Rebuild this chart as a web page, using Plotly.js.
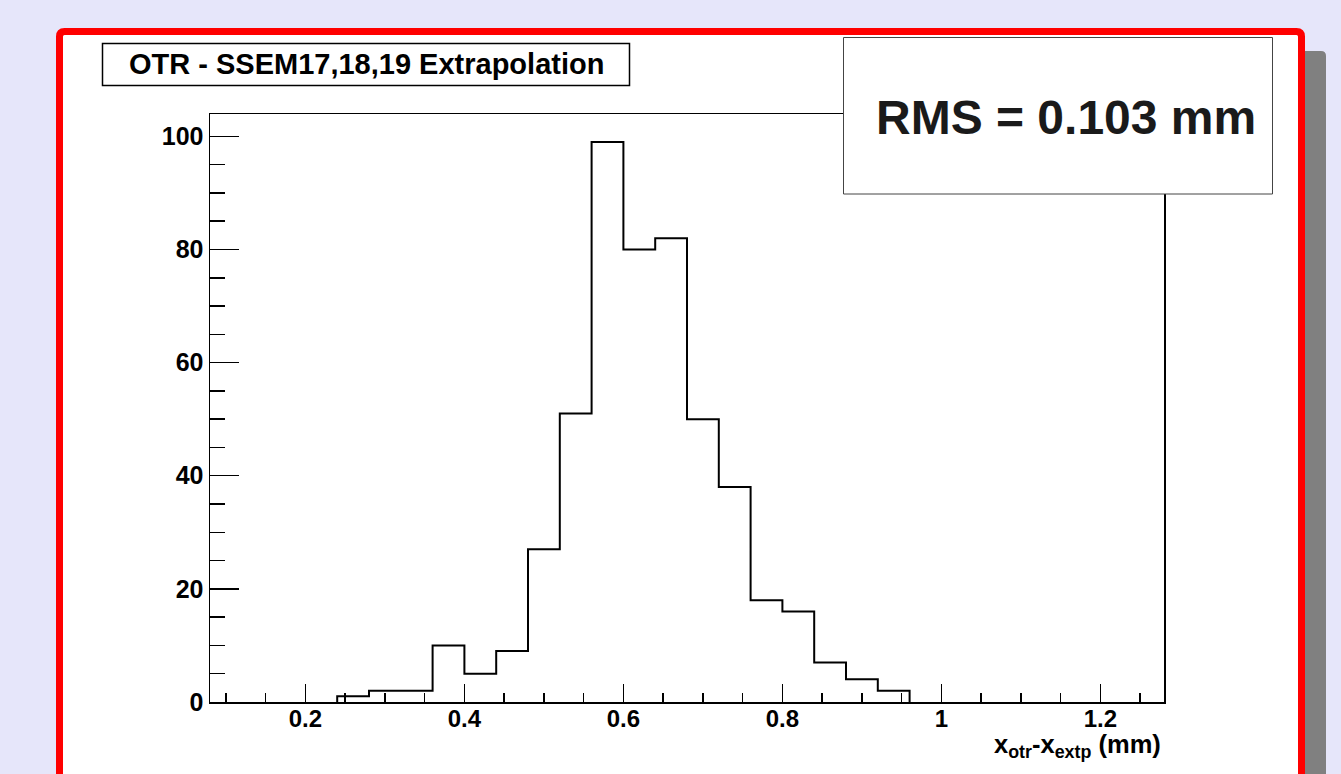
<!DOCTYPE html>
<html>
<head>
<meta charset="utf-8">
<script src="https://cdn.plot.ly/plotly-3.0.1.min.js"></script>
<style>html,body{margin:0;padding:0;background:#e6e6fa;}#chart{width:1341px;height:774px;}</style>
</head>
<body>
<div id="chart"></div>
<script>
// ---- data ----
const binLow = [0.24, 0.28, 0.32, 0.36, 0.40, 0.44, 0.48, 0.52, 0.56, 0.60, 0.64, 0.68, 0.72, 0.76, 0.80, 0.84, 0.88, 0.92];
const counts = [1, 2, 2, 10, 5, 9, 27, 51, 99, 80, 82, 50, 38, 18, 16, 7, 4, 2];
const binWidth = 0.04;
const xTickVals = [0.2, 0.4, 0.6, 0.8, 1, 1.2];
const xTickText = ["0.2", "0.4", "0.6", "0.8", "1", "1.2"];
const yTickVals = [0, 20, 40, 60, 80, 100];
const yTickText = ["0", "20", "40", "60", "80", "100"];
const titleText = "OTR - SSEM17,18,19 Extrapolation";
const rmsText = "RMS = 0.103 mm";
const xTitle = "x<sub>otr</sub>-x<sub>extp</sub> (mm)";

// step outline (ROOT-style histogram)
const sx = [binLow[0]], sy = [0];
for (let i = 0; i < counts.length; i++) { sx.push(binLow[i]); sy.push(counts[i]); }
sx.push(binLow[binLow.length - 1] + binWidth); sy.push(0);

const W = 1341, H = 774;
const px = v => v / W, py = v => 1 - v / H;
function roundRect(x0, y0, x1, y1, r) {
  const P = (x, y) => px(x) + ',' + py(y);
  return 'M' + P(x0 + r, y0) + ' L' + P(x1 - r, y0) + ' Q' + P(x1, y0) + ' ' + P(x1, y0 + r) +
    ' L' + P(x1, y1 - r) + ' Q' + P(x1, y1) + ' ' + P(x1 - r, y1) +
    ' L' + P(x0 + r, y1) + ' Q' + P(x0, y1) + ' ' + P(x0, y1 - r) +
    ' L' + P(x0, y0 + r) + ' Q' + P(x0, y0) + ' ' + P(x0 + r, y0) + ' Z';
}

const FONT = "Liberation Sans, Arial, sans-serif";

const trace = {
  x: sx, y: sy, type: 'scatter', mode: 'lines',
  line: {shape: 'hv', color: '#000', width: 2},
  hoverinfo: 'skip', showlegend: false
};

const layout = {
  width: W, height: H,
  paper_bgcolor: '#e6e6fa', plot_bgcolor: '#ffffff',
  margin: {l: 0, r: 0, t: 0, b: 0},
  showlegend: false,
  xaxis: {
    domain: [px(210), px(1164)], range: [0.08, 1.28],
    showline: true, linecolor: '#000', linewidth: 1.5, mirror: true,
    showgrid: false, zeroline: false,
    ticks: 'inside', ticklen: 18, tickwidth: 1.5, tickcolor: '#000',
    tickvals: xTickVals, ticktext: xTickText, ticklabelstandoff: -5,
    tickfont: {family: FONT, size: 24, color: '#000', weight: 'bold'},
    minor: {dtick: 0.05, ticks: 'inside', ticklen: 9, tickwidth: 1.5, tickcolor: '#000', showgrid: false}
  },
  yaxis: {
    domain: [py(702), py(114)], range: [0, 103.95],
    showline: true, linecolor: '#000', linewidth: 1.5, mirror: true,
    showgrid: false, zeroline: false,
    ticks: 'inside', ticklen: 29, tickwidth: 1.5, tickcolor: '#000',
    tickvals: yTickVals, ticktext: yTickText,
    tickfont: {family: FONT, size: 25, color: '#000', weight: 'bold'},
    minor: {dtick: 5, ticks: 'inside', ticklen: 15, tickwidth: 1.5, tickcolor: '#000', showgrid: false}
  },
  shapes: [
    {type: 'path', xref: 'paper', yref: 'paper', layer: 'below', path: roundRect(1290, 51, 1326, 800, 5),
     fillcolor: '#808080', line: {width: 0}},
    {type: 'path', xref: 'paper', yref: 'paper', layer: 'below', path: roundRect(59.5, 31.5, 1301.5, 800, 5),
     fillcolor: '#ffffff', line: {color: '#ff0000', width: 7}},
    {type: 'rect', xref: 'paper', yref: 'paper', layer: 'above',
     x0: px(102.5), x1: px(629.5), y0: py(85.5), y1: py(43.5),
     fillcolor: '#ffffff', line: {color: '#000', width: 1.5}},
    {type: 'rect', xref: 'paper', yref: 'paper', layer: 'above',
     x0: px(843.5), x1: px(1272.5), y0: py(194), y1: py(37.5),
     fillcolor: '#ffffff', line: {color: '#444', width: 1}}
  ],
  annotations: [
    {xref: 'paper', yref: 'paper', x: px(366), y: py(64), xanchor: 'center', yanchor: 'middle',
     text: titleText, showarrow: false, font: {family: FONT, size: 29, color: '#000', weight: 'bold'}},
    {xref: 'paper', yref: 'paper', x: px(1066), y: py(118), xanchor: 'center', yanchor: 'middle',
     text: rmsText, showarrow: false, font: {family: FONT, size: 48, color: '#1a1a1a', weight: 'bold'}},
    {xref: 'paper', yref: 'paper', x: px(1163), y: py(746), xanchor: 'right', yanchor: 'middle',
     text: xTitle, showarrow: false, font: {family: FONT, size: 25.5, color: '#000', weight: 'bold'}}
  ]
};

Plotly.newPlot('chart', [trace], layout, {displayModeBar: false, staticPlot: true});
</script>
</body>
</html>
